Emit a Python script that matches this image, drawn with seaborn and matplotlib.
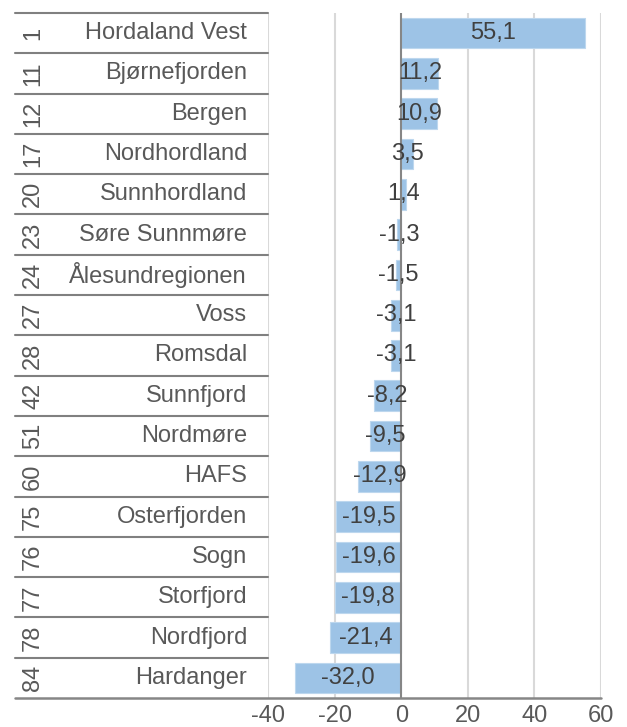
import numpy as np
import pandas as pd
import matplotlib
matplotlib.use('Agg')
import matplotlib.pyplot as plt
import matplotlib.transforms as mtransforms
import seaborn as sns

ranks = ['1', '11', '12', '17', '20', '23', '24', '27', '28', '42', '51', '60', '75', '76', '77', '78', '84']
regions = ['Hordaland Vest', 'Bjørnefjorden', 'Bergen', 'Nordhordland', 'Sunnhordland',
           'Søre Sunnmøre', 'Ålesundregionen', 'Voss', 'Romsdal', 'Sunnfjord', 'Nordmøre',
           'HAFS', 'Osterfjorden', 'Sogn', 'Storfjord', 'Nordfjord', 'Hardanger']
values = [55.1, 11.2, 10.9, 3.5, 1.4, -1.3, -1.5, -3.1, -3.1, -8.2, -9.5,
          -12.9, -19.5, -19.6, -19.8, -21.4, -32.0]

df = pd.DataFrame({'region': regions, 'rank': ranks, 'value': values})

sns.set_style('white')
plt.rcParams['font.family'] = ['Liberation Sans', 'DejaVu Sans']
fs = 17

fig = plt.figure(figsize=(6.27, 7.27), dpi=100)
ax = fig.add_axes([268 / 627, 1 - 698 / 727, 333 / 627, 685 / 727])

sns.barplot(data=df, y='region', x='value', orient='h', color='#9dc3e6',
            saturation=1, width=0.76, edgecolor='#bdd7ee', linewidth=0.8, ax=ax)

ax.set_xlim(-40, 60)
ax.set_ylim(len(regions) - 0.5, -0.5)
ax.set_xticks([-40, -20, 0, 20, 40, 60])
ax.set_xticklabels(['-40', '-20', '0', '20', '40', '60'])
ax.tick_params(axis='x', length=0, pad=5, labelsize=fs, labelcolor='#595959')
ax.set_yticks([])
ax.set_xlabel('')
ax.set_ylabel('')

for s in ['top', 'right', 'left', 'bottom']:
    ax.spines[s].set_visible(False)

for gx in [-40, -20, 20, 40, 60]:
    ax.axvline(gx, color='#d9d9d9', lw=1.5, zorder=0)
ax.axvline(0, color='#868686', lw=1.5, zorder=3)

# data labels, centred in the bars
for i, v in enumerate(values):
    ax.text(v / 2, i, f'{v:.1f}'.replace('.', ','), ha='center', va='center',
            fontsize=fs, color='#404040', zorder=4)

# two-level category labels
trans = mtransforms.blended_transform_factory(ax.transAxes, ax.transData)
x_left = (15 - 268) / 333
for i, (r, name) in enumerate(zip(ranks, regions)):
    ax.text(-0.063, i, name, transform=trans, ha='right', va='center',
            fontsize=fs, color='#595959')
    ax.text((33 - 268) / 333, i, r, transform=trans, ha='center', va='center',
            rotation=90, fontsize=fs, color='#595959')
for k in range(len(regions)):
    ax.plot([x_left, 0], [k - 0.5, k - 0.5], transform=trans, color='#808080',
            lw=1.5, clip_on=False, zorder=5)
ax.plot([x_left, 1], [len(regions) - 0.5] * 2, transform=trans, color='#868686',
        lw=1.8, clip_on=False, zorder=5)

fig.savefig('out.png', dpi=100)
